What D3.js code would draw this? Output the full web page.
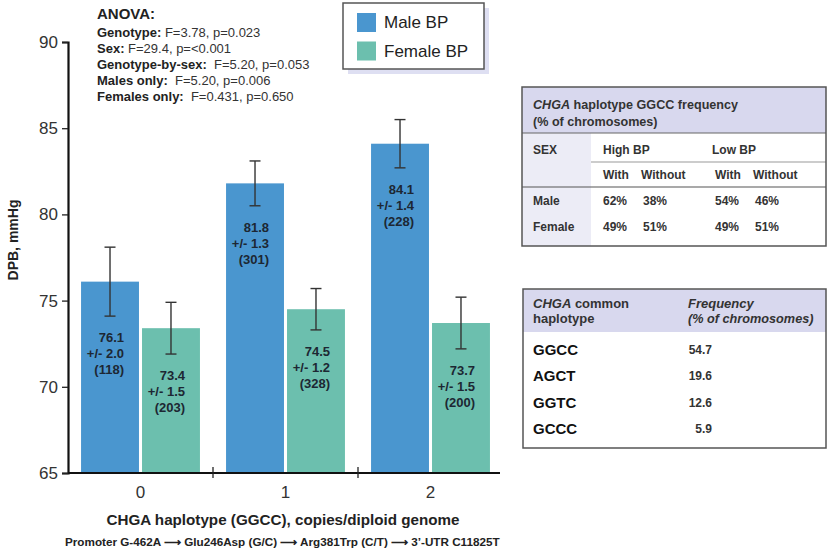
<!DOCTYPE html>
<html>
<head>
<meta charset="utf-8">
<title>DBP by CHGA haplotype</title>
<script src="https://cdn.jsdelivr.net/npm/d3@7"></script>
<style>
  body { margin: 0; background: #fff; }
  text { font-family: "Liberation Sans", Arial, Helvetica, sans-serif; }
</style>
</head>
<body>
<div id="chart"></div>
<script>
// data
var groups = ["0", "1", "2"]
var sexes = ["Male BP", "Female BP"]
var maleMean = [76.1, 81.8, 84.1]
var maleSE = [2.0, 1.3, 1.4]
var maleN = [118, 301, 228]
var femaleMean = [73.4, 74.5, 73.7]
var femaleSE = [1.5, 1.2, 1.5]
var femaleN = [203, 328, 200]
var yTicks = [65, 70, 75, 80, 85, 90]

var anova = [
  ["Genotype:", " F=3.78, p=0.023"],
  ["Sex:", " F=29.4, p=<0.001"],
  ["Genotype-by-sex:", "  F=5.20, p=0.053"],
  ["Males only:", "  F=5.20, p=0.006"],
  ["Females only:", "  F=0.431, p=0.650"]
]
var freqRows = ["Male", "Female"]
var freqVals = [["62%", "38%", "54%", "46%"], ["49%", "51%", "49%", "51%"]]
var haplotypes = ["GGCC", "AGCT", "GGTC", "GCCC"]
var haploFreq = ["54.7", "19.6", "12.6", "5.9"]

var colors = { "Male BP": "#4a96cf", "Female BP": "#6cbfae" }

var W = 831, H = 559
var svg = d3.select("#chart").append("svg").attr("width", W).attr("height", H)

var y = d3.scaleLinear().domain([65, 90]).range([473, 42])
var x0 = d3.scaleBand().domain(groups).range([68, 503]).paddingInner(0.18).paddingOuter(0.09)
var x1 = d3.scaleBand().domain(sexes).range([0, x0.bandwidth()]).paddingInner(0.05)

var data = []
groups.forEach(function(g, i) {
  data.push({ g: g, sex: "Male BP", mean: maleMean[i], se: maleSE[i], n: maleN[i] })
  data.push({ g: g, sex: "Female BP", mean: femaleMean[i], se: femaleSE[i], n: femaleN[i] })
})

// bars
svg.selectAll(".bar").data(data).enter().append("rect")
  .attr("class", "bar")
  .attr("x", function(d) { return x0(d.g) + x1(d.sex) })
  .attr("y", function(d) { return y(d.mean) })
  .attr("width", x1.bandwidth())
  .attr("height", function(d) { return y(65) - y(d.mean) })
  .attr("fill", function(d) { return colors[d.sex] })

// error bars
var eb = svg.selectAll(".err").data(data).enter().append("g").attr("class", "err")
  .attr("stroke", "#333").attr("stroke-width", 1.4)
eb.append("line")
  .attr("x1", function(d) { return x0(d.g) + x1(d.sex) + x1.bandwidth() / 2 })
  .attr("x2", function(d) { return x0(d.g) + x1(d.sex) + x1.bandwidth() / 2 })
  .attr("y1", function(d) { return y(d.mean + d.se) })
  .attr("y2", function(d) { return y(d.mean - d.se) })
;[1, -1].forEach(function(s) {
  eb.append("line")
    .attr("x1", function(d) { return x0(d.g) + x1(d.sex) + x1.bandwidth() / 2 - 5.5 })
    .attr("x2", function(d) { return x0(d.g) + x1(d.sex) + x1.bandwidth() / 2 + 5.5 })
    .attr("y1", function(d) { return y(d.mean + s * d.se) })
    .attr("y2", function(d) { return y(d.mean + s * d.se) })
})

// value labels inside the bars
var lab = svg.selectAll(".lab").data(data).enter().append("text")
  .attr("class", "lab")
  .attr("text-anchor", "end")
  .attr("font-size", 13).attr("font-weight", "bold").attr("fill", "#1d2733")
  .attr("transform", function(d) {
    return "translate(" + (x0(d.g) + x1(d.sex) + x1.bandwidth() / 2 + 14) + "," + (y(d.mean - d.se) + 26) + ")"
  })
lab.append("tspan").attr("x", 0).attr("dy", 0).text(function(d) { return d.mean.toFixed(1) })
lab.append("tspan").attr("x", 0).attr("dy", 16).text(function(d) { return "+/- " + d.se.toFixed(1) })
lab.append("tspan").attr("x", 0).attr("dy", 16).text(function(d) { return "(" + d.n + ")" })

// y axis
var yAxis = svg.append("g").attr("transform", "translate(68,0)")
  .call(d3.axisLeft(y).tickValues(yTicks).tickSize(6).tickPadding(4))
yAxis.select(".domain").attr("stroke", "#111").attr("stroke-width", 2.2)
yAxis.selectAll(".tick line").attr("stroke", "#222").attr("stroke-width", 1.3)
yAxis.selectAll(".tick text").attr("font-size", 17).attr("fill", "#333")
  .style("font-family", "'Liberation Sans', Arial, sans-serif")

// x axis
var xAxis = svg.append("g").attr("transform", "translate(0,473)")
xAxis.append("line").attr("x1", 68).attr("x2", 500).attr("y1", 0).attr("y2", 0)
  .attr("stroke", "#111").attr("stroke-width", 2.2)
xAxis.selectAll(".sep").data(groups.slice(1)).enter().append("line")
  .attr("x1", function(g) { return x0(g) - x0.step() * x0.paddingInner() / 2 })
  .attr("x2", function(g) { return x0(g) - x0.step() * x0.paddingInner() / 2 })
  .attr("y1", -6).attr("y2", 5).attr("stroke", "#222").attr("stroke-width", 1.3)
xAxis.selectAll(".xl").data(groups).enter().append("text")
  .attr("x", function(g) { return x0(g) + x0.bandwidth() / 2 }).attr("y", 25)
  .attr("text-anchor", "middle").attr("font-size", 17).attr("fill", "#333")
  .text(function(g) { return g })

svg.append("text").attr("x", 283).attr("y", 525).attr("text-anchor", "middle")
  .attr("font-size", 15.2).attr("font-weight", "bold").attr("fill", "#222")
  .text("CHGA haplotype (GGCC), copies/diploid genome")

svg.append("text").attr("transform", "translate(18,240) rotate(-90)")
  .attr("text-anchor", "middle").attr("font-size", 14).attr("font-weight", "bold").attr("fill", "#222")
  .text("DPB, mmHg")

svg.append("text").attr("x", 65).attr("y", 546)
  .attr("font-size", 11.7).attr("font-weight", "bold").attr("fill", "#222")
  .text("Promoter G-462A \u27F6 Glu246Asp (G/C) \u27F6 Arg381Trp (C/T) \u27F6 3\u2019-UTR C11825T")

// ANOVA block
svg.append("text").attr("x", 97).attr("y", 19)
  .attr("font-size", 15).attr("font-weight", "bold").attr("fill", "#222").text("ANOVA:")
var an = svg.selectAll(".an").data(anova).enter().append("text")
  .attr("x", 97).attr("y", function(d, i) { return 37 + i * 16 })
  .attr("font-size", 13).attr("fill", "#333")
an.append("tspan").attr("font-weight", "bold").attr("fill", "#222").text(function(d) { return d[0] })
an.append("tspan").attr("xml:space", "preserve").style("white-space", "pre").text(function(d) { return d[1] })

// legend
var leg = svg.append("g")
leg.append("rect").attr("x", 348).attr("y", 8).attr("width", 141).attr("height", 66).attr("fill", "#dedff2")
leg.append("rect").attr("x", 343).attr("y", 3).attr("width", 141).attr("height", 66)
  .attr("fill", "#fff").attr("stroke", "#555").attr("stroke-width", 1.5)
sexes.forEach(function(s, i) {
  leg.append("rect").attr("x", 357).attr("y", 13 + i * 28.5).attr("width", 19).attr("height", 19).attr("fill", colors[s])
  leg.append("text").attr("x", 384).attr("y", 28 + i * 28.5).attr("font-size", 17).attr("fill", "#222").text(s)
})

// table 1: GGCC frequency
var t1 = svg.append("g")
t1.append("rect").attr("x", 522).attr("y", 87).attr("width", 304).attr("height", 46).attr("fill", "#d8d8ee")
t1.append("rect").attr("x", 522).attr("y", 133).attr("width", 69).attr("height", 113).attr("fill", "#ececf6")
t1.append("line").attr("x1", 522).attr("x2", 826).attr("y1", 133).attr("y2", 133).attr("stroke", "#666").attr("stroke-width", 1)
t1.append("line").attr("x1", 591).attr("x2", 826).attr("y1", 162).attr("y2", 162).attr("stroke", "#999").attr("stroke-width", 1)
t1.append("line").attr("x1", 522).attr("x2", 826).attr("y1", 187).attr("y2", 187).attr("stroke", "#555").attr("stroke-width", 1.2)
t1.append("rect").attr("x", 522).attr("y", 87).attr("width", 304).attr("height", 159)
  .attr("fill", "none").attr("stroke", "#555").attr("stroke-width", 1.5)
var h1 = t1.append("text").attr("x", 533).attr("y", 109).attr("font-size", 12.6).attr("font-weight", "bold").attr("fill", "#333")
h1.append("tspan").attr("font-style", "italic").text("CHGA")
h1.append("tspan").text(" haplotype GGCC frequency")
t1.append("text").attr("x", 533).attr("y", 126).attr("font-size", 12.6).attr("font-weight", "bold").attr("fill", "#333")
  .text("(% of chromosomes)")
var colX = [603, 641, 715, 753]
function cell(g, x, yy, s, size) {
  g.append("text").attr("x", x).attr("y", yy).attr("font-size", size || 12)
    .attr("font-weight", "bold").attr("fill", "#333").text(s)
}
cell(t1, 533, 154, "SEX")
cell(t1, 603, 154, "High BP")
cell(t1, 712, 154, "Low BP")
;["With", "Without", "With", "Without"].forEach(function(s, i) { cell(t1, colX[i], 179, s) })
freqRows.forEach(function(r, i) {
  cell(t1, 533, 205 + i * 26, r)
  freqVals[i].forEach(function(v, j) { cell(t1, colX[j] + (j % 2 ? 2 : 0), 205 + i * 26, v) })
})

// table 2: common haplotypes
var t2 = svg.append("g")
t2.append("rect").attr("x", 523).attr("y", 289).attr("width", 303).attr("height", 43).attr("fill", "#d8d8ee")
t2.append("rect").attr("x", 523).attr("y", 289).attr("width", 303).attr("height", 159)
  .attr("fill", "none").attr("stroke", "#555").attr("stroke-width", 1.5)
var h2 = t2.append("text").attr("x", 533).attr("y", 308).attr("font-size", 13).attr("font-weight", "bold").attr("fill", "#333")
h2.append("tspan").attr("font-style", "italic").text("CHGA")
h2.append("tspan").text(" common")
t2.append("text").attr("x", 533).attr("y", 323).attr("font-size", 13).attr("font-weight", "bold").attr("fill", "#333").text("haplotype")
t2.append("text").attr("x", 688).attr("y", 308).attr("font-size", 13).attr("font-weight", "bold").attr("font-style", "italic").attr("fill", "#333").text("Frequency")
t2.append("text").attr("x", 688).attr("y", 323).attr("font-size", 12.7).attr("font-weight", "bold").attr("font-style", "italic").attr("fill", "#333").text("(% of chromosomes)")
haplotypes.forEach(function(h, i) {
  t2.append("text").attr("x", 533).attr("y", 355 + i * 26.3).attr("font-size", 15).attr("font-weight", "bold").attr("fill", "#111").text(h)
  t2.append("text").attr("x", 712).attr("y", 354 + i * 26.3).attr("text-anchor", "end")
    .attr("font-size", 12).attr("font-weight", "bold").attr("fill", "#333").text(haploFreq[i])
})
</script>
</body>
</html>
